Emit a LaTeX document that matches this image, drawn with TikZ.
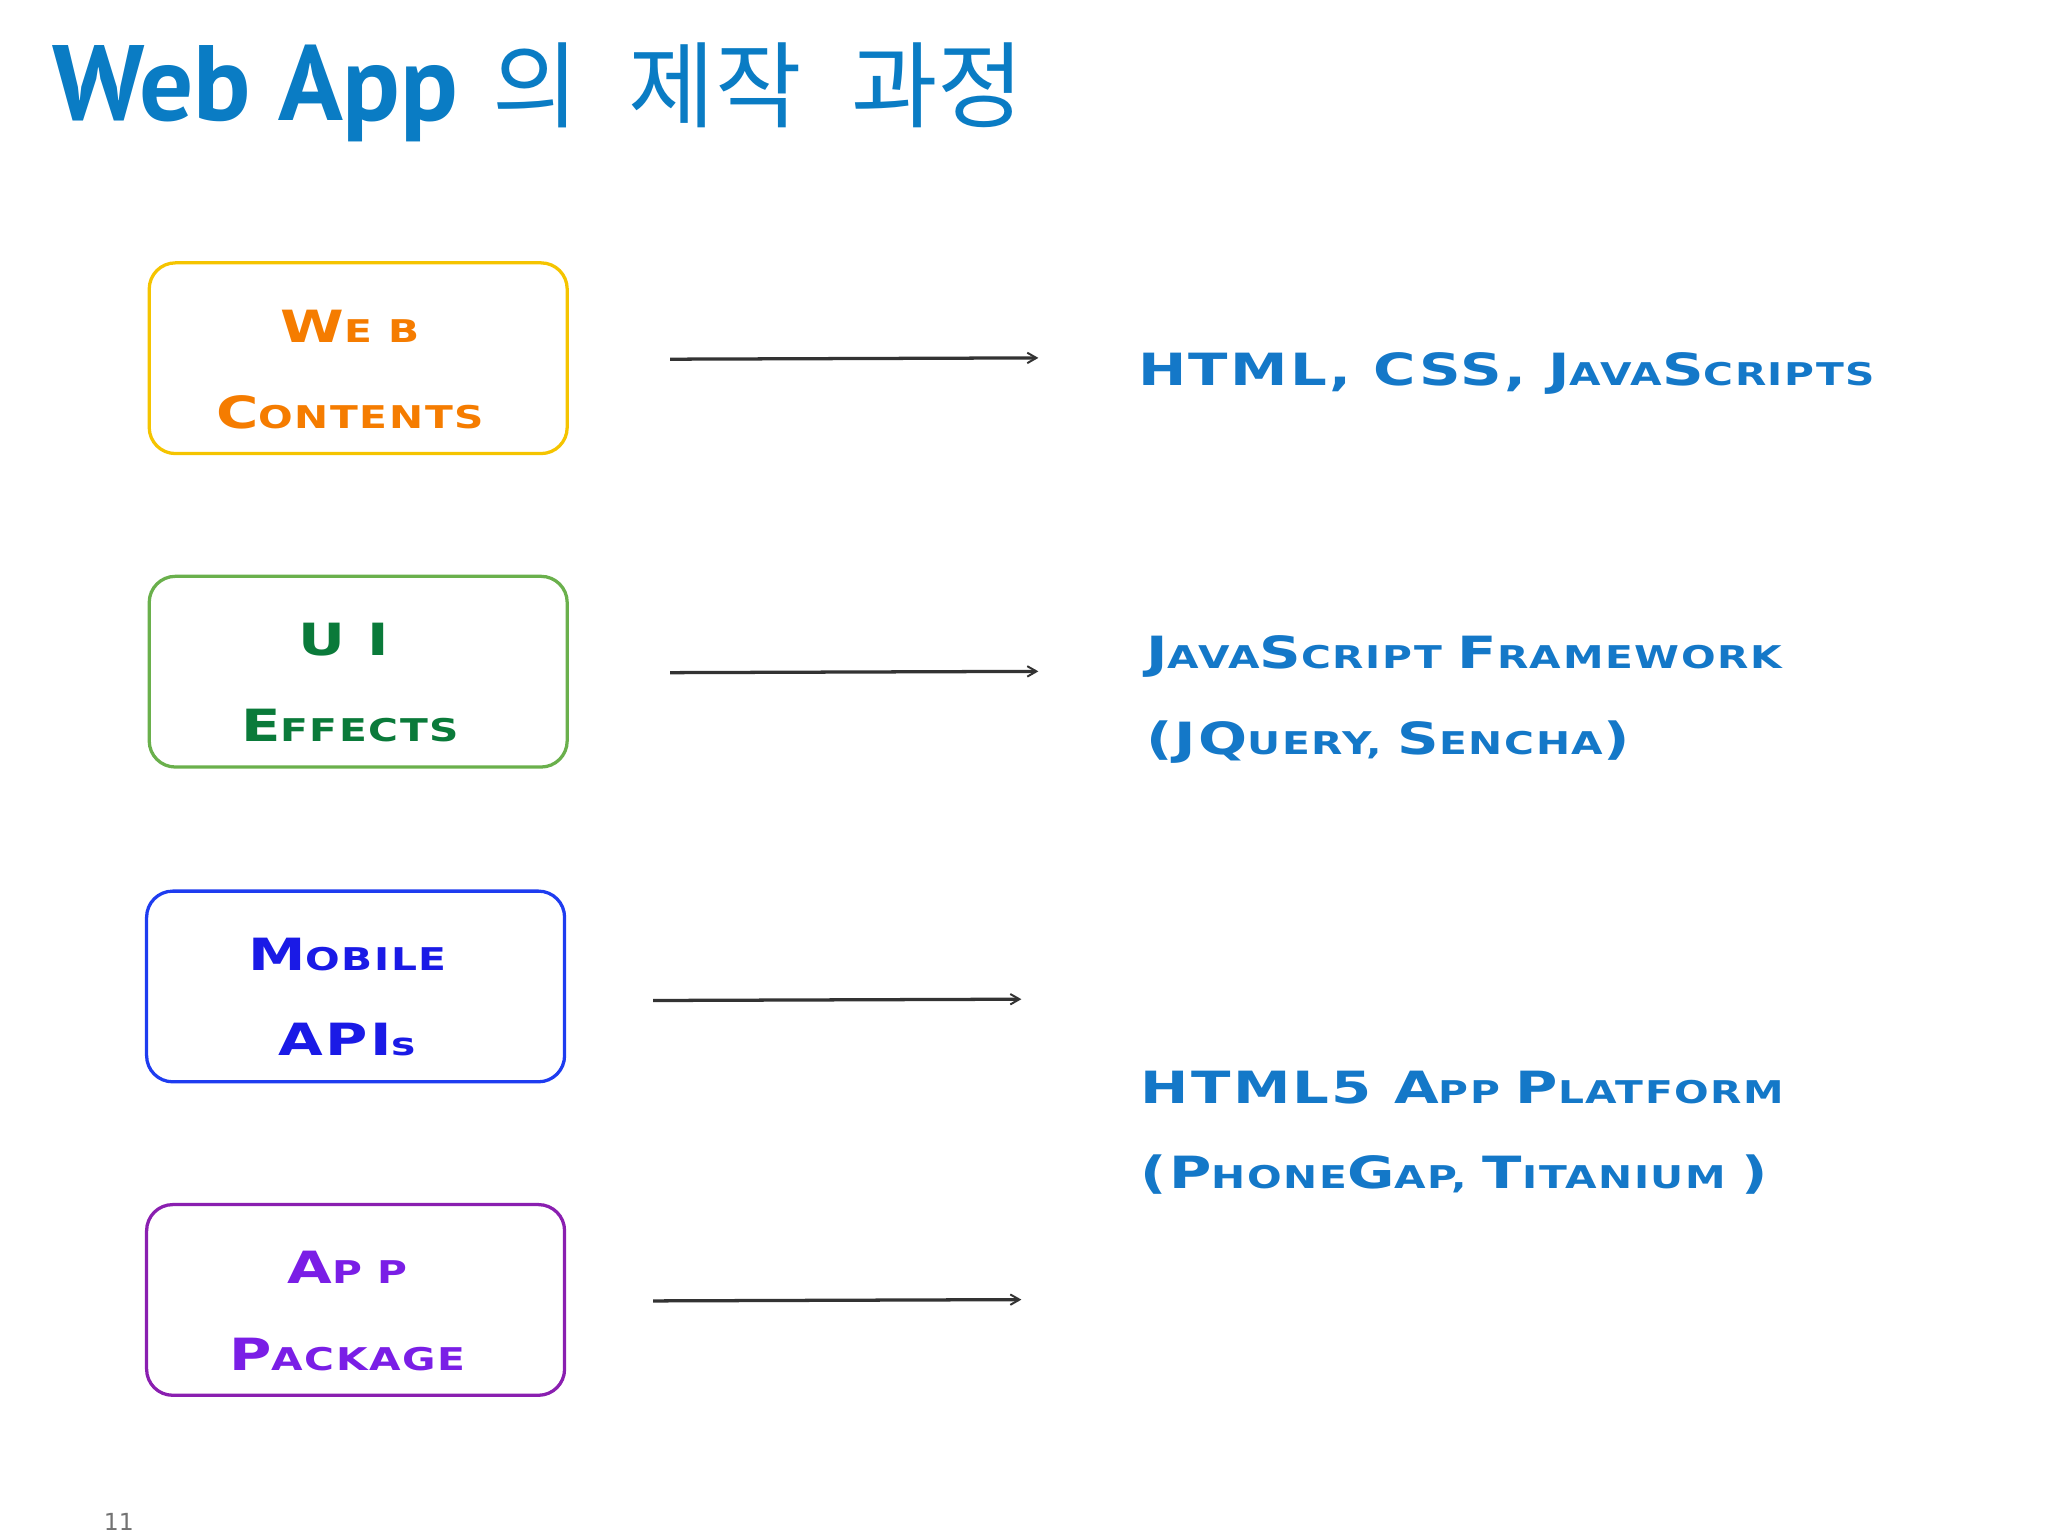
\documentclass[tikz,border=0pt]{standalone}
\usepackage{fontspec}
\setmainfont{DejaVu Sans}
\newfontfamily\wide[FakeStretch=1.3,LetterSpace=5]{DejaVu Sans Bold}
\newfontfamily\ttl{PT Sans}
\newfontfamily\kr{Noto Sans CJK KR}
\usetikzlibrary{arrows.meta}
\definecolor{ttlblue}{HTML}{0A7CC4}
\definecolor{rblue}{HTML}{1478C8}
\definecolor{orgb}{HTML}{F5C400}
\definecolor{orgt}{HTML}{F57C00}
\definecolor{grnb}{HTML}{6AB04C}
\definecolor{grnt}{HTML}{0A7A3A}
\definecolor{blub}{HTML}{1E3CF0}
\definecolor{blut}{HTML}{1A1AE6}
\definecolor{purb}{HTML}{8A1FB0}
\definecolor{purt}{HTML}{7A1EE6}
\newcommand\Bg[1]{{\fontsize{34}{34}\selectfont #1}}
\newcommand\Sm[1]{{\fontsize{24}{24}\selectfont #1}}
\tikzset{
 box/.style={draw, line width=2.5pt, rounded corners=20pt, minimum width=320pt, minimum height=146pt, anchor=north west},
 bt/.style={font=\wide, anchor=base},
 rt/.style={font=\wide, text=rblue, anchor=base west},
 arr/.style={line width=2.5pt, draw=black!80, -{Straight Barb[length=7pt,width=8pt,line width=1.5pt]}}
}
\begin{document}
\begin{tikzpicture}[x=1pt,y=-1pt]
\useasboundingbox (0,0) rectangle (1568,1176);
\node[anchor=base west, inner sep=0, text=ttlblue] (title) at (40,92)
 {{\ttl\bfseries\fontsize{82}{82}\selectfont Web App}\hspace{26pt}{\kr\fontsize{72}{72}\selectfont 의\hspace{38pt}제작\hspace{38pt}과정}};
% boxes
\node[box, draw=orgb] (b1) at (113,200) {};
\node[box, draw=grnb] (b2) at (113,440) {};
\node[box, draw=blub] (b3) at (111,681) {};
\node[box, draw=purb] (b4) at (111,921) {};
\node[bt, text=orgt] (t1a) at (268,262) {\Bg{W}\Sm{E B}};
\node[bt, text=orgt] (t1b) at (268,328) {\Bg{C}\Sm{ONTENTS}};
\node[bt, text=grnt] (t2a) at (263,502) {\Bg{U I}};
\node[bt, text=grnt] (t2b) at (268,568) {\Bg{E}\Sm{FFECTS}};
\node[bt, text=blut] (t3a) at (266,743) {\Bg{M}\Sm{OBILE}};
\node[bt, text=blut] (t3b) at (266,808) {\Bg{API}\Sm{s}};
\node[bt, text=purt] (t4a) at (266,983) {\Bg{A}\Sm{P P}};
\node[bt, text=purt] (t4b) at (266,1049) {\Bg{P}\Sm{ACKAGE}};
% arrows
\coordinate (a1s) at (513,275); \coordinate (a1e) at (795,274);
\coordinate (a2s) at (513,515); \coordinate (a2e) at (795,514);
\coordinate (a3s) at (500,766); \coordinate (a3e) at (782,765);
\coordinate (a4s) at (500,996); \coordinate (a4e) at (782,995);
\draw[arr] (a1s) -- (a1e);
\draw[arr] (a2s) -- (a2e);
\draw[arr] (a3s) -- (a3e);
\draw[arr] (a4s) -- (a4e);
% right texts
\node[rt] (r1) at (868,295) {\Bg{HTML, CSS, J}\Sm{AVA}\Bg{S}\Sm{CRIPTS}};
\node[rt] (r2a) at (874,512) {\Bg{J}\Sm{AVA}\Bg{S}\Sm{CRIPT }\Bg{F}\Sm{RAMEWORK}};
\node[rt] (r2b) at (874,578) {\Bg{(JQ}\Sm{UERY, }\Bg{S}\Sm{ENCHA}\Bg{)}};
\node[rt] (r3a) at (870,845) {\Bg{HTML5 A}\Sm{PP }\Bg{P}\Sm{LATFORM}};
\node[rt] (r3b) at (870,910) {\Bg{(P}\Sm{HONE}\Bg{G}\Sm{AP, }\Bg{T}\Sm{ITANIUM }\Bg{)}};
\node[anchor=base west, text=black!55, font=\fontsize{18}{18}\selectfont] (pg) at (76,1172) {11};
\end{tikzpicture}
\end{document}
